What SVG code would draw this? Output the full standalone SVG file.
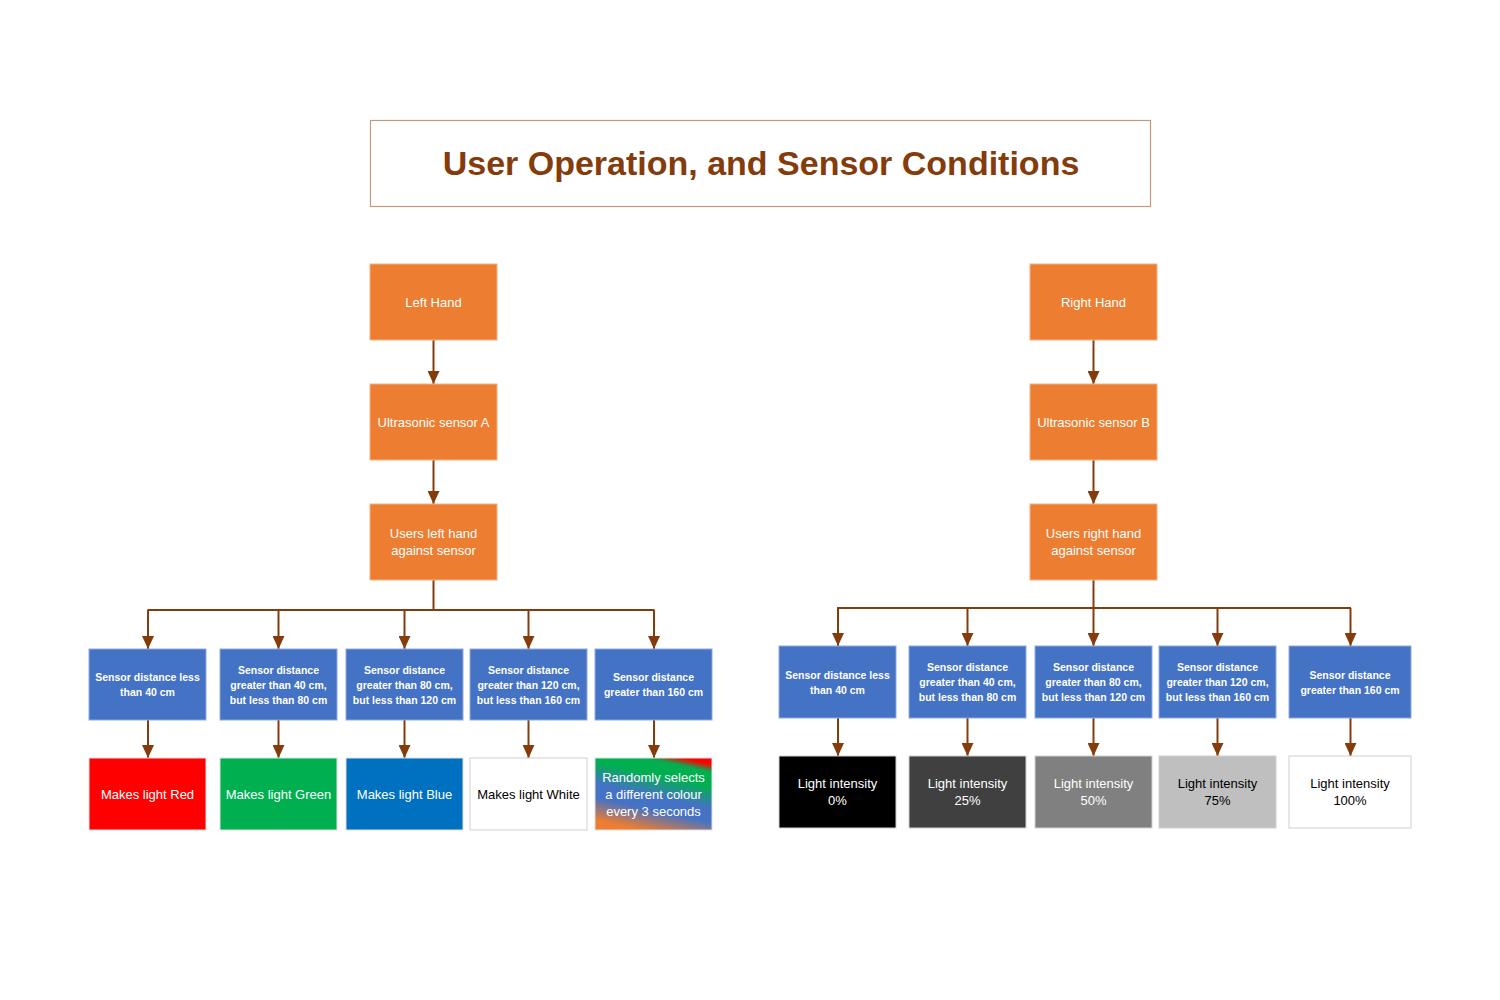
<svg xmlns="http://www.w3.org/2000/svg" width="1500" height="1000" viewBox="0 0 1500 1000">
<style>
.t{font-family:"Liberation Sans",Arial,sans-serif;text-anchor:middle}
.o{fill:#ed7d31;stroke:#f4b183;stroke-width:1}
.b{fill:#4472c4;stroke:#8faadc;stroke-width:1}
.ot{font-size:13px;fill:#ffffff}
.bt{font-size:10.5px;font-weight:bold;fill:#ffffff}
.lt{font-size:13px;fill:#ffffff}
.dt{font-size:13px;fill:#000000}
.c{fill:none;stroke:#843c0c;stroke-width:2}
.ca{fill:none;stroke:#843c0c;stroke-width:2;marker-end:url(#ah)}
</style>
<defs>
<marker id="ah" markerUnits="userSpaceOnUse" markerWidth="13" markerHeight="12" refX="13" refY="6" orient="auto">
<path d="M0,0 L13,6 L0,12 z" fill="#843c0c"/>
</marker>
<linearGradient id="rnd" x1="0.75" y1="0" x2="0.4" y2="1">
<stop offset="0" stop-color="#ff0000"/>
<stop offset="0.1" stop-color="#00b050"/>
<stop offset="0.28" stop-color="#00b050"/>
<stop offset="0.55" stop-color="#4472c4"/>
<stop offset="0.72" stop-color="#4472c4"/>
<stop offset="1" stop-color="#ed7d31"/>
</linearGradient>
</defs>
<rect width="1500" height="1000" fill="#ffffff"/>
<g id="title">
<rect x="370.5" y="120.5" width="780" height="86" fill="#ffffff" stroke="#c59a7a" stroke-width="1.2"/>
<text class="t" x="761" y="175" font-size="34" font-weight="bold" fill="#843c0c">User Operation, and Sensor Conditions</text>
</g>
<g id="connectors">
<line class="ca" x1="433.5" y1="340" x2="433.5" y2="384"/>
<line class="ca" x1="433.5" y1="460" x2="433.5" y2="504"/>
<line class="c" x1="433.5" y1="580" x2="433.5" y2="610"/>
<line class="c" x1="147.5" y1="610" x2="654.5" y2="610"/>
<line class="ca" x1="148" y1="610" x2="148" y2="649"/>
<line class="ca" x1="278.5" y1="610" x2="278.5" y2="649"/>
<line class="ca" x1="404.5" y1="610" x2="404.5" y2="649"/>
<line class="ca" x1="528.5" y1="610" x2="528.5" y2="649"/>
<line class="ca" x1="654" y1="610" x2="654" y2="649"/>
<line class="ca" x1="148" y1="720" x2="148" y2="758"/>
<line class="ca" x1="278.5" y1="720" x2="278.5" y2="758"/>
<line class="ca" x1="404.5" y1="720" x2="404.5" y2="758"/>
<line class="ca" x1="528.5" y1="720" x2="528.5" y2="758"/>
<line class="ca" x1="654" y1="720" x2="654" y2="758"/>
<line class="ca" x1="1093.5" y1="340" x2="1093.5" y2="384"/>
<line class="ca" x1="1093.5" y1="460" x2="1093.5" y2="504"/>
<line class="c" x1="1093.5" y1="580" x2="1093.5" y2="608"/>
<line class="c" x1="837" y1="608" x2="1351" y2="608"/>
<line class="ca" x1="838" y1="608" x2="838" y2="646"/>
<line class="ca" x1="967.5" y1="608" x2="967.5" y2="646"/>
<line class="ca" x1="1093.5" y1="608" x2="1093.5" y2="646"/>
<line class="ca" x1="1217.5" y1="608" x2="1217.5" y2="646"/>
<line class="ca" x1="1350.5" y1="608" x2="1350.5" y2="646"/>
<line class="ca" x1="838" y1="718" x2="838" y2="756"/>
<line class="ca" x1="967.5" y1="718" x2="967.5" y2="756"/>
<line class="ca" x1="1093.5" y1="718" x2="1093.5" y2="756"/>
<line class="ca" x1="1217.5" y1="718" x2="1217.5" y2="756"/>
<line class="ca" x1="1350.5" y1="718" x2="1350.5" y2="756"/>
</g>
<g id="left-hand"><rect class="o" x="370" y="264" width="127" height="76"/><text class="t ot" x="433.5" y="306.5">Left Hand</text></g>
<g id="sensor-a"><rect class="o" x="370" y="384" width="127" height="76"/><text class="t ot" x="433.5" y="426.5">Ultrasonic sensor A</text></g>
<g id="users-left"><rect class="o" x="370" y="504" width="127" height="76"/><text class="t ot" x="433.5" y="538">Users left hand</text><text class="t ot" x="433.5" y="555">against sensor</text></g>
<g id="right-hand"><rect class="o" x="1030" y="264" width="127" height="76"/><text class="t ot" x="1093.5" y="306.5">Right Hand</text></g>
<g id="sensor-b"><rect class="o" x="1030" y="384" width="127" height="76"/><text class="t ot" x="1093.5" y="426.5">Ultrasonic sensor B</text></g>
<g id="users-right"><rect class="o" x="1030" y="504" width="127" height="76"/><text class="t ot" x="1093.5" y="538">Users right hand</text><text class="t ot" x="1093.5" y="555">against sensor</text></g>
<g id="l-d1"><rect class="b" x="89" y="649" width="117" height="71"/><text class="t bt" x="147.5" y="681">Sensor distance less</text><text class="t bt" x="147.5" y="696">than 40 cm</text></g>
<g id="l-d2"><rect class="b" x="220" y="649" width="117" height="71"/><text class="t bt" x="278.5" y="674">Sensor distance</text><text class="t bt" x="278.5" y="689">greater than 40 cm,</text><text class="t bt" x="278.5" y="704">but less than 80 cm</text></g>
<g id="l-d3"><rect class="b" x="346" y="649" width="117" height="71"/><text class="t bt" x="404.5" y="674">Sensor distance</text><text class="t bt" x="404.5" y="689">greater than 80 cm,</text><text class="t bt" x="404.5" y="704">but less than 120 cm</text></g>
<g id="l-d4"><rect class="b" x="470" y="649" width="117" height="71"/><text class="t bt" x="528.5" y="674">Sensor distance</text><text class="t bt" x="528.5" y="689">greater than 120 cm,</text><text class="t bt" x="528.5" y="704">but less than 160 cm</text></g>
<g id="l-d5"><rect class="b" x="595" y="649" width="117" height="71"/><text class="t bt" x="653.5" y="681">Sensor distance</text><text class="t bt" x="653.5" y="696">greater than 160 cm</text></g>
<g id="l-o1"><rect x="89" y="758" width="117" height="72" fill="#ff0000" stroke="#e0e0e0"/><text class="t lt" x="147.5" y="799">Makes light Red</text></g>
<g id="l-o2"><rect x="220" y="758" width="117" height="72" fill="#00b050" stroke="#e0e0e0"/><text class="t lt" x="278.5" y="799">Makes light Green</text></g>
<g id="l-o3"><rect x="346" y="758" width="117" height="72" fill="#0070c0" stroke="#e0e0e0"/><text class="t lt" x="404.5" y="799">Makes light Blue</text></g>
<g id="l-o4"><rect x="470" y="758" width="117" height="72" fill="#ffffff" stroke="#d0d0d0"/><text class="t dt" x="528.5" y="799">Makes light White</text></g>
<g id="l-o5"><rect x="595" y="758" width="117" height="72" fill="url(#rnd)" stroke="#e0e0e0"/><text class="t lt" x="653.5" y="781.5">Randomly selects</text><text class="t lt" x="653.5" y="798.5">a different colour</text><text class="t lt" x="653.5" y="815.5">every 3 seconds</text></g>
<g id="r-d1"><rect class="b" x="779" y="646" width="117" height="72"/><text class="t bt" x="837.5" y="678.5">Sensor distance less</text><text class="t bt" x="837.5" y="693.5">than 40 cm</text></g>
<g id="r-d2"><rect class="b" x="909" y="646" width="117" height="72"/><text class="t bt" x="967.5" y="671">Sensor distance</text><text class="t bt" x="967.5" y="686">greater than 40 cm,</text><text class="t bt" x="967.5" y="701">but less than 80 cm</text></g>
<g id="r-d3"><rect class="b" x="1035" y="646" width="117" height="72"/><text class="t bt" x="1093.5" y="671">Sensor distance</text><text class="t bt" x="1093.5" y="686">greater than 80 cm,</text><text class="t bt" x="1093.5" y="701">but less than 120 cm</text></g>
<g id="r-d4"><rect class="b" x="1159" y="646" width="117" height="72"/><text class="t bt" x="1217.5" y="671">Sensor distance</text><text class="t bt" x="1217.5" y="686">greater than 120 cm,</text><text class="t bt" x="1217.5" y="701">but less than 160 cm</text></g>
<g id="r-d5"><rect class="b" x="1289" y="646" width="122" height="72"/><text class="t bt" x="1350" y="678.5">Sensor distance</text><text class="t bt" x="1350" y="693.5">greater than 160 cm</text></g>
<g id="r-o1"><rect x="779" y="756" width="117" height="72" fill="#000000" stroke="#d0d0d0"/><text class="t lt" x="837.5" y="788">Light intensity</text><text class="t lt" x="837.5" y="805">0%</text></g>
<g id="r-o2"><rect x="909" y="756" width="117" height="72" fill="#404040" stroke="#d0d0d0"/><text class="t lt" x="967.5" y="788">Light intensity</text><text class="t lt" x="967.5" y="805">25%</text></g>
<g id="r-o3"><rect x="1035" y="756" width="117" height="72" fill="#808080" stroke="#d0d0d0"/><text class="t lt" x="1093.5" y="788" fill="#e8e8e8">Light intensity</text><text class="t lt" x="1093.5" y="805">50%</text></g>
<g id="r-o4"><rect x="1159" y="756" width="117" height="72" fill="#bfbfbf" stroke="#d0d0d0"/><text class="t dt" x="1217.5" y="788">Light intensity</text><text class="t dt" x="1217.5" y="805">75%</text></g>
<g id="r-o5"><rect x="1289" y="756" width="122" height="72" fill="#ffffff" stroke="#d0d0d0"/><text class="t dt" x="1350" y="788">Light intensity</text><text class="t dt" x="1350" y="805">100%</text></g>
</svg>
